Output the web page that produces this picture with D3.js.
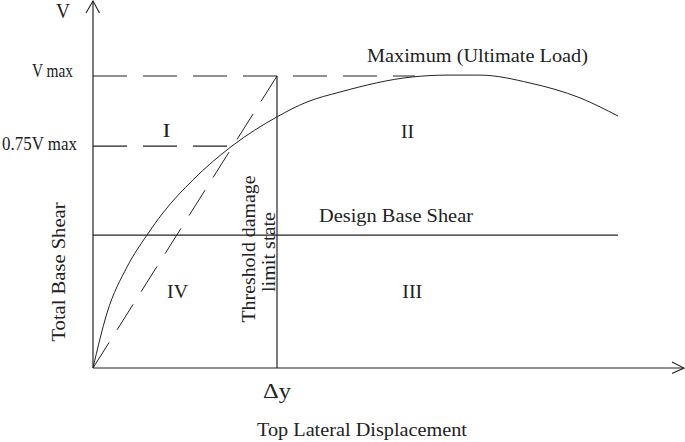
<!DOCTYPE html>
<html>
<head>
<meta charset="utf-8">
<script src="https://cdn.jsdelivr.net/npm/d3@7"></script>
<style>
  html, body { margin: 0; padding: 0; background: #fff; }
  svg { display: block; }
  text { font-family: "Liberation Serif", "Times New Roman", serif; fill: #222; }
</style>
</head>
<body>
<svg id="chart" width="685" height="442"></svg>
<script>
// ---- data (displacement in units of Δy, shear in units of Vmax) ----
const curveX = [0, 0.076, 0.185, 0.293, 0.380, 0.543, 0.755, 1.0, 1.163, 1.342, 1.739, 1.924, 2.103, 2.375, 2.647, 2.853];
const curveY = [0, 0.188, 0.346, 0.455, 0.531, 0.644, 0.760, 0.860, 0.911, 0.945, 0.997, 1.003, 1.003, 0.976, 0.925, 0.863];
const levelNames = ["Vmax", "0.75Vmax", "Design Base Shear"];
const levelValues = [1.0, 0.76, 0.455];
const levelEnds = [1.75, 0.755, 2.853];
const yieldDisp = 1.0;              // Δy
const xTickLabels = ["Δy"];
const regionLabels = ["I", "II", "III", "IV"];
const regionX = [0.40, 1.71, 1.735, 0.46];
const regionY = [0.79, 0.786, 0.241, 0.24];
const regionW = [8, 13, 20, 21];

// ---- scales ----
const svg = d3.select("#chart");
const x = d3.scaleLinear().domain([0, 1]).range([93, 277]);
const y = d3.scaleLinear().domain([0, 1]).range([368, 76]);
const xMax = x.invert(684), yMax = y.invert(1);
const stroke = "#222";

// axes
svg.append("line").attr("x1", x(0)).attr("y1", y(0)).attr("x2", x(xMax)).attr("y2", y(0))
  .attr("stroke", stroke).attr("stroke-width", 1.2);
svg.append("line").attr("x1", x(0)).attr("y1", y(0)).attr("x2", x(0)).attr("y2", y(yMax))
  .attr("stroke", stroke).attr("stroke-width", 1.2);
// arrowheads
svg.append("path").attr("d", `M${x(xMax)-12},${y(0)-6}L${x(xMax)},${y(0)}L${x(xMax)-12},${y(0)+5.5}`)
  .attr("fill", "none").attr("stroke", stroke).attr("stroke-width", 1.1);
svg.append("path").attr("d", `M${x(0)-7},${y(yMax)+12}L${x(0)},${y(yMax)}L${x(0)+6.5},${y(yMax)+12}`)
  .attr("fill", "none").attr("stroke", stroke).attr("stroke-width", 1.1);

// dashed level lines (Vmax, 0.75Vmax)
[0, 1].forEach(i => {
  svg.append("line")
    .attr("x1", x(0)).attr("x2", x(levelEnds[i]))
    .attr("y1", y(levelValues[i])).attr("y2", y(levelValues[i]))
    .attr("stroke", stroke).attr("stroke-width", 1.1)
    .attr("stroke-dasharray", "34,16");
});
// design base shear solid
svg.append("line")
  .attr("x1", x(0)).attr("x2", x(levelEnds[2]))
  .attr("y1", y(levelValues[2])).attr("y2", y(levelValues[2]))
  .attr("stroke", stroke).attr("stroke-width", 1.2);

// threshold vertical line
svg.append("line")
  .attr("x1", x(yieldDisp)).attr("x2", x(yieldDisp))
  .attr("y1", y(0)).attr("y2", y(levelValues[0]))
  .attr("stroke", stroke).attr("stroke-width", 1.2);

// dashed secant line (Δy, Vmax) -> origin
svg.append("line")
  .attr("x1", x(yieldDisp)).attr("y1", y(levelValues[0]))
  .attr("x2", x(0)).attr("y2", y(0))
  .attr("stroke", stroke).attr("stroke-width", 1)
  .attr("stroke-dasharray", "30,15");

// capacity curve
const pts = curveX.map((d, i) => [d, curveY[i]]);
svg.append("path").datum(pts)
  .attr("d", d3.line().x(d => x(d[0])).y(d => y(d[1])).curve(d3.curveMonotoneX))
  .attr("fill", "none").attr("stroke", stroke).attr("stroke-width", 1);

// ---- text ----
const fs = 19;
function txt(xx, yy, t, size, len, anchor) {
  const el = svg.append("text").attr("x", xx).attr("y", yy).attr("font-size", size)
    .attr("text-anchor", anchor || "start").text(t);
  if (len) el.attr("textLength", len).attr("lengthAdjust", "spacingAndGlyphs");
  return el;
}
txt(56, 18, "V", 20, 14);
txt(32, y(levelValues[0]) + 1, "V max", fs, 41);
txt(2, y(levelValues[1]) + 4, "0.75V max", fs, 75);
txt(319, y(levelValues[2]) - 13, levelNames[2], fs, 154);
txt(367, 62, "Maximum (Ultimate Load)", 19, 221);

regionLabels.forEach((t, i) => {
  txt(x(regionX[i]) - regionW[i] / 2, y(regionY[i]), t, fs, regionW[i]);
});

txt(x(yieldDisp) - 14, 398, xTickLabels[0], 20, 28);
txt(257, 436, "Top Lateral Displacement", fs, 210);

function vtxt(cx, cy, t, len) {
  svg.append("g").attr("transform", `translate(${cx},${cy}) rotate(-90)`)
    .append("text").attr("x", -len / 2).attr("y", 0).attr("font-size", fs)
    .attr("textLength", len).attr("lengthAdjust", "spacingAndGlyphs").text(t);
}
vtxt(65, 272, "Total Base Shear", 139);
vtxt(255, 249, "Threshold damage", 147);
vtxt(275, 252, "limit state", 80);
</script>
</body>
</html>
